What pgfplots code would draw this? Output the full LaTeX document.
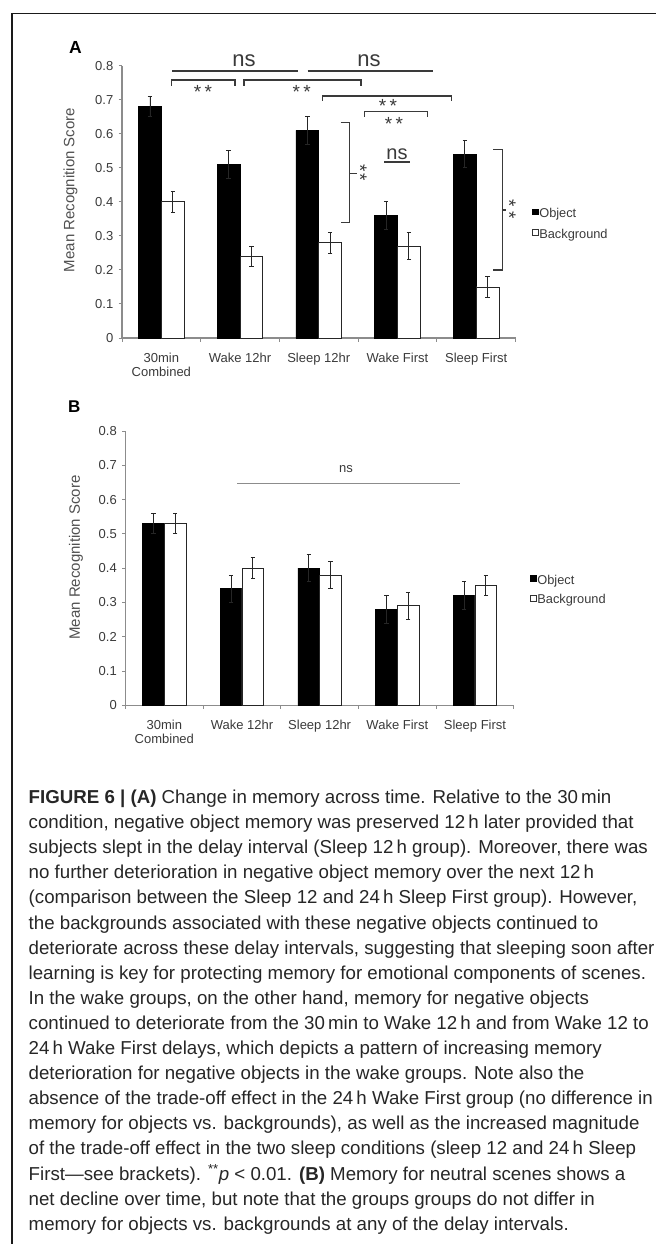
\documentclass[border=0pt]{standalone}
\usepackage{fontspec}
\setmainfont{Liberation Sans}
\usepackage{pgfplots}
\pgfplotsset{compat=1.18}
\definecolor{axgray}{HTML}{8C8C8C}
\definecolor{txtgray}{HTML}{3A3A3A}
\definecolor{labgray}{HTML}{505050}
\definecolor{capcol}{HTML}{262626}
\definecolor{framecol}{HTML}{1A1A1A}
\definecolor{anncol}{HTML}{3A3A3A}

\pgfplotsset{
  myaxis/.style={
    scale only axis,
    anchor=south west,
    xmin=-0.5, xmax=4.5,
    ymin=0, ymax=0.8,
    ytick={0,0.1,0.2,0.3,0.4,0.5,0.6,0.7,0.8},
    yticklabels={0,0.1,0.2,0.3,0.4,0.5,0.6,0.7,0.8},
    xtick={0,1,2,3,4},
    xticklabels={{30min\\Combined},{Wake 12hr},{Sleep 12hr},{Wake First},{Sleep First}},
    xticklabel style={align=center, font=\fontsize{13}{14}\selectfont, text=txtgray, yshift=-7.6pt},
    yticklabel style={font=\fontsize{13}{14}\selectfont, text=txtgray, xshift=-1.7pt},
    major x tick style={draw=none},
    minor xtick={-0.5,0.5,1.5,2.5,3.5,4.5},
    tick align=outside,
    major tick length=3.5pt, minor tick length=3.5pt,
    axis x line*=bottom, axis y line*=left,
    axis line style={axgray, line width=1.2pt},
    tick style={axgray, line width=1pt},
    /pgf/number format/assume math mode=true,
    ybar,
    clip=false,
    legend cell align=left,
    legend style={anchor=north west, draw=none, fill=none, inner sep=0pt,
      font=\fontsize{12.8}{14}\selectfont, text=txtgray, row sep=8.3pt,
      nodes={inner sep=0.8pt}},
  },
  objbar/.style={fill=black, draw=black, line width=0.6pt, bar shift=0pt,
    legend image code/.code={\draw[fill=black, draw=black, line width=0.5pt] (0pt,-1pt) rectangle (5.8pt,4.7pt);},
    error bars/.cd, y dir=both, y explicit,
    error bar style={black!85, line width=0.8pt},
    error mark options={rotate=90, mark size=2.2pt, black!85, line width=0.8pt}},
  bgbar/.style={fill=white, draw=black!85, line width=0.8pt, bar shift=0pt,
    legend image code/.code={\draw[fill=white, draw=black!80, line width=0.6pt] (0pt,-1pt) rectangle (5.8pt,4.7pt);},
    error bars/.cd, y dir=both, y explicit,
    error bar style={black!85, line width=0.8pt},
    error mark options={rotate=90, mark size=2.2pt, black!85, line width=0.8pt}},
}

\newcommand{\capline}[2]{\node[anchor=base west, inner sep=0pt, font=\fontsize{18.7}{25}\selectfont, text=capcol] at (28.5,#1) {#2};}

\begin{document}
\begin{tikzpicture}
\useasboundingbox (0pt,0pt) rectangle (656pt,-1244pt);
\draw[line width=1.4pt, color=framecol] (12pt,-1244pt) -- (12pt,-13.7pt) -- (656pt,-13.7pt);

% ---------- Panel A ----------
\begin{axis}[myaxis, at={(122pt,-338pt)}, width=393.5pt, height=272.3pt, bar width=0.29,
  legend style={at={(1.0417,0.4807)}}]
\addplot[objbar] coordinates {
  (-0.145,0.68) +- (0,0.03)
  (0.855,0.51) +- (0,0.04)
  (1.855,0.61) +- (0,0.04)
  (2.855,0.36) +- (0,0.04)
  (3.855,0.54) +- (0,0.04)
};
\addplot[bgbar] coordinates {
  (0.145,0.40) +- (0,0.03)
  (1.145,0.24) +- (0,0.03)
  (2.145,0.28) +- (0,0.03)
  (3.145,0.27) +- (0,0.04)
  (4.145,0.15) +- (0,0.03)
};
\legend{Object,Background}
\end{axis}

% ---------- Panel B ----------
\begin{axis}[myaxis, at={(125.5pt,-705.3pt)}, width=388.3pt, height=274.3pt, bar width=0.28,
  legend style={at={(1.0417,0.4794)}, row sep=7.3pt}]
\addplot[objbar] coordinates {
  (-0.14,0.53) +- (0,0.03)
  (0.86,0.34) +- (0,0.04)
  (1.86,0.40) +- (0,0.04)
  (2.86,0.28) +- (0,0.04)
  (3.86,0.32) +- (0,0.04)
};
\addplot[bgbar] coordinates {
  (0.14,0.53) +- (0,0.03)
  (1.14,0.40) +- (0,0.03)
  (2.14,0.38) +- (0,0.04)
  (3.14,0.29) +- (0,0.04)
  (4.14,0.35) +- (0,0.03)
};
\legend{Object,Background}
\end{axis}

\begin{scope}[x=1pt, y=-1pt]
% panel letters and y labels
\node[anchor=base west, inner sep=0pt, font=\bfseries\fontsize{17.5}{17}\selectfont] at (69,53.3) {A};
\node[anchor=base west, inner sep=0pt, font=\bfseries\fontsize{17}{17}\selectfont] at (67.8,412.7) {B};
\node[rotate=90, inner sep=0pt, font=\fontsize{15}{15}\selectfont, text=labgray] at (70.5,190) {Mean Recognition Score};
\node[rotate=90, inner sep=0pt, font=\fontsize{15}{15}\selectfont, text=labgray] at (76,557.5) {Mean Recognition Score};

% annotations panel A
\begin{scope}[draw=anncol, line width=1.1pt]
\node[anchor=base, inner sep=0pt, font=\fontsize{22}{22}\selectfont, text=anncol] at (244,66.7) {ns};
\node[anchor=base, inner sep=0pt, font=\fontsize{22}{22}\selectfont, text=anncol] at (369,66.7) {ns};
\draw (172.3,71) -- (298.3,71);
\draw (307.7,71) -- (433.3,71);
\draw (171.7,85.7) -- (171.7,80) -- (235,80) -- (235,85.7);
\draw (244,86) -- (244,80) -- (361,80) -- (361,86);
\draw (322.7,100.7) -- (322.7,96) -- (451.7,96) -- (451.7,100.7);
\draw (364.3,116.7) -- (364.3,111.7) -- (427.3,111.7) -- (427.3,116.7);
\node[anchor=north, inner sep=0pt, font=\fontsize{19}{19}\selectfont, text=anncol] at (203,84.8) {*\hspace{3.3pt}*};
\node[anchor=north, inner sep=0pt, font=\fontsize{19}{19}\selectfont, text=anncol] at (301.7,85.1) {*\hspace{3.3pt}*};
\node[anchor=north, inner sep=0pt, font=\fontsize{19}{19}\selectfont, text=anncol] at (388,98.8) {*\hspace{3.3pt}*};
\node[anchor=north, inner sep=0pt, font=\fontsize{19}{19}\selectfont, text=anncol] at (394,116.4) {*\hspace{3.3pt}*};
\node[anchor=base, inner sep=0pt, font=\fontsize{20}{20}\selectfont, text=anncol] at (397,159.3) {ns};
\draw (384,162) -- (410,162);
\draw (340.7,122.3) -- (349.3,122.3) -- (349.3,222.7) -- (340.7,222.7);
\draw[line width=1.6pt] (349.3,173.3) -- (356.7,173.3);
\node[anchor=base, rotate=-90, inner sep=0pt, font=\fontsize{19}{19}\selectfont, text=anncol] at (353.5,172.5) {*\hspace{2.2pt}*};
\draw (493.3,149.3) -- (502.3,149.3) -- (502.3,270) -- (493.3,270);
\draw[line width=1.6pt] (502.3,210) -- (506,210);
\node[anchor=base, rotate=-90, inner sep=0pt, font=\fontsize{19}{19}\selectfont, text=anncol] at (502.5,209.2) {*\hspace{4.3pt}*};
\end{scope}

% annotations panel B
\node[anchor=base, inner sep=0pt, font=\fontsize{13}{13}\selectfont, text=txtgray] at (346,472) {ns};
\draw[axgray, line width=1.2pt] (237,483.3) -- (460,483.3);

% caption
\capline{803.5}{\textbf{FIGURE 6 | (A)} Change in memory across time. Relative to the 30\,min}
\capline{828.6}{condition, negative object memory was preserved 12\,h later provided that}
\capline{853.7}{subjects slept in the delay interval (Sleep 12\,h group). Moreover, there was}
\capline{878.8}{no further deterioration in negative object memory over the next 12\,h}
\capline{903.9}{(comparison between the Sleep 12 and 24\,h Sleep First group). However,}
\capline{929.0}{the backgrounds associated with these negative objects continued to}
\capline{954.1}{deteriorate across these delay intervals, suggesting that sleeping soon after}
\capline{979.2}{learning is key for protecting memory for emotional components of scenes.}
\capline{1004.3}{In the wake groups, on the other hand, memory for negative objects}
\capline{1029.4}{continued to deteriorate from the 30\,min to Wake 12\,h and from Wake 12 to}
\capline{1054.5}{24\,h Wake First delays, which depicts a pattern of increasing memory}
\capline{1079.6}{deterioration for negative objects in the wake groups. Note also the}
\capline{1104.7}{absence of the trade-off effect in the 24\,h Wake First group (no difference in}
\capline{1129.8}{memory for objects vs. backgrounds), as well as the increased magnitude}
\capline{1154.9}{of the trade-off effect in the two sleep conditions (sleep 12 and 24\,h Sleep}
\capline{1180.0}{First—see brackets). \textsuperscript{**}\textit{p} < 0.01. \textbf{(B)} Memory for neutral scenes shows a}
\capline{1205.1}{net decline over time, but note that the groups groups do not differ in}
\capline{1230.2}{memory for objects vs. backgrounds at any of the delay intervals.}
\end{scope}
\end{tikzpicture}
\end{document}
